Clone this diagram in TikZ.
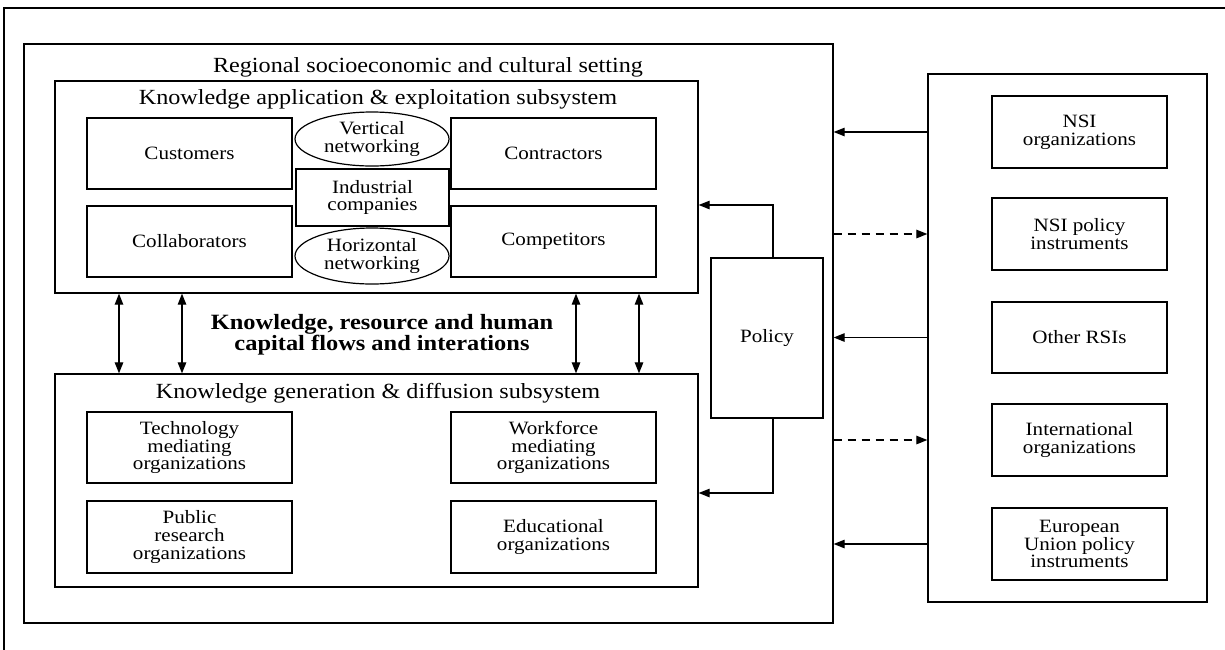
\documentclass[tikz,border=0pt]{standalone}
\usepackage{fontspec}
\setmainfont{Liberation Serif}[FakeStretch=1.12]
\usetikzlibrary{arrows.meta,shapes.geometric}

\newcommand\labfont{\fontsize{18.8}{17.8}\selectfont}
\newcommand\ttlfont{\fontsize{21.6}{22}\selectfont}
\newcommand\flowfont{\fontsize{21.8}{20}\selectfont\bfseries}

\begin{document}
\begin{tikzpicture}[x=1pt,y=-1pt,
  frame/.style={draw, line width=1.3pt, inner sep=0pt},
  unit/.style={frame, align=center, font=\labfont},
  oval/.style={draw, ellipse, line width=1.2pt, inner sep=0pt, align=center, font=\labfont},
  title/.style={inner sep=0pt, font=\ttlfont},
  tip/.style={-{Triangle[length=11pt,width=8.5pt]}, line width=1.2pt},
  both/.style={{Triangle[length=11pt,width=8.5pt]}-{Triangle[length=11pt,width=8.5pt]}, line width=1.2pt},
  dashtip/.style={tip, dash pattern=on 8pt off 6pt}]

\fill[white] (0,0) rectangle (1225,649);
\useasboundingbox (0,0) rectangle (1225,649);

% page frame (open to the right and bottom)
\coordinate (ftl) at (4,8);
\draw[line width=1.3pt] (1230,8) -- (ftl) -- (4,655);

% regional setting
\node[frame, minimum width=809pt, minimum height=579pt] (region) at (428.5,333.5) {};
\node[title] (regtitle) at (428,67) {Regional socioeconomic and cultural setting};

% knowledge application & exploitation subsystem
\node[frame, minimum width=643pt, minimum height=212pt] (app) at (376.5,187) {};
\node[title] (apptitle) at (378,99) {Knowledge application \& exploitation subsystem};
\node[unit, minimum width=205pt, minimum height=71pt] (cust) at (189.5,153.5) {Customers};
\node[unit, minimum width=205pt, minimum height=71pt] (contr) at (553.5,153.5) {Contractors};
\node[unit, minimum width=205pt, minimum height=71pt] (collab) at (189.5,241.5) {Collaborators};
\node[unit, minimum width=205pt, minimum height=71pt] (compet) at (553.5,241.5) {Competitors};
\node[oval, minimum width=154pt, minimum height=54pt] (vnet) at (372,139) {Vertical\\networking};
\node[unit, minimum width=153pt, minimum height=57pt] (indus) at (372.5,197.5) {Industrial\\companies};
\node[oval, minimum width=154pt, minimum height=56pt] (hnet) at (372,256) {Horizontal\\networking};

% knowledge generation & diffusion subsystem
\node[frame, minimum width=643pt, minimum height=213pt] (gen) at (376.5,480.5) {};
\node[title] (gentitle) at (378,393) {Knowledge generation \& diffusion subsystem};
\node[unit, minimum width=205pt, minimum height=71pt] (tech) at (189.5,447.5) {Technology\\mediating\\organizations};
\node[unit, minimum width=205pt, minimum height=71pt] (work) at (553.5,447.5) {Workforce\\mediating\\organizations};
\node[unit, minimum width=205pt, minimum height=72pt] (pub) at (189.5,537) {Public\\research\\organizations};
\node[unit, minimum width=205pt, minimum height=72pt] (edu) at (553.5,537) {Educational\\organizations};

% flows between the two subsystems
\node[align=center, inner sep=0pt, font=\flowfont] (flows) at (382,335)
  {Knowledge, resource and human\\capital flows and interations};
\coordinate (f1) at (119,0);
\coordinate (f2) at (182,0);
\coordinate (f3) at (576,0);
\coordinate (f4) at (639,0);
\foreach \f in {f1,f2,f3,f4}
  \draw[both] (app.south -| \f) -- (gen.north -| \f);

% policy
\node[unit, minimum width=112pt, minimum height=160pt] (policy) at (767,338) {Policy};
\coordinate (pk) at (773,205);
\coordinate (pl) at (773,493);
\draw[tip] (policy.north -| pk) |- (app.east |- pk);
\draw[tip] (policy.south -| pl) |- (gen.east |- pl);

% national and international context
\node[frame, minimum width=279pt, minimum height=528pt] (rb) at (1067.5,338) {};
\node[unit, minimum width=175pt, minimum height=72pt] (nsiorg) at (1079.5,132) {NSI\\organizations};
\node[unit, minimum width=175pt, minimum height=72pt] (nsipol) at (1079.5,234) {NSI policy\\instruments};
\node[unit, minimum width=175pt, minimum height=71pt] (other) at (1079.5,337.5) {Other RSIs};
\node[unit, minimum width=175pt, minimum height=72pt] (intl) at (1079.5,440) {International\\organizations};
\node[unit, minimum width=175pt, minimum height=72pt] (eu) at (1079.5,544) {European\\Union policy\\instruments};

\draw[tip] (rb.west |- nsiorg) -- (region.east |- nsiorg);
\draw[tip] (rb.west |- other) -- (region.east |- other);
\draw[tip] (rb.west |- eu) -- (region.east |- eu);
\draw[dashtip] (region.east |- nsipol) -- (rb.west |- nsipol);
\draw[dashtip] (region.east |- intl) -- (rb.west |- intl);
\end{tikzpicture}
\end{document}
